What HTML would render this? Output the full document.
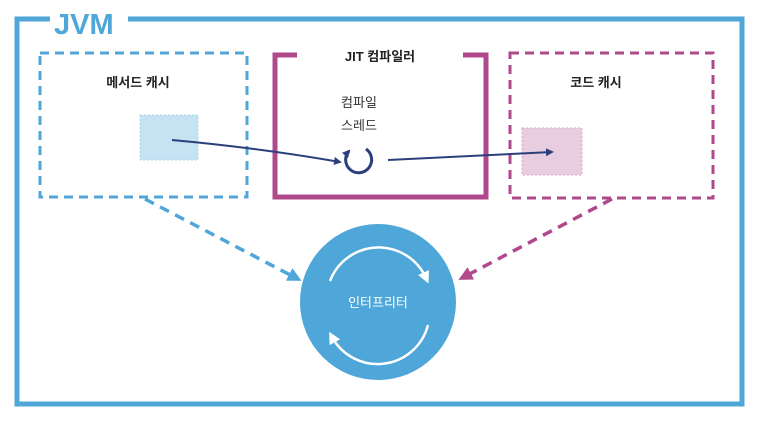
<!DOCTYPE html>
<html><head><meta charset="utf-8"><style>
html,body{margin:0;padding:0;background:#fff;}
svg{display:block;font-family:"Liberation Sans","Noto Sans CJK KR",sans-serif;}
</style></head><body>
<svg width="768" height="432" viewBox="0 0 768 432">
<defs>
<marker id="ah" markerWidth="8" markerHeight="8" refX="6" refY="4" orient="auto" markerUnits="userSpaceOnUse"><path d="M0,0 L8,4 L0,8 Z" fill="#2b3f7a"/></marker>
<marker id="ab" markerWidth="14" markerHeight="14" refX="10" refY="7" orient="auto" markerUnits="userSpaceOnUse"><path d="M0,0 L14,7 L0,14 Z" fill="#4fa6d8"/></marker>
<marker id="am" markerWidth="14" markerHeight="14" refX="10" refY="7" orient="auto" markerUnits="userSpaceOnUse"><path d="M0,0 L14,7 L0,14 Z" fill="#b0498c"/></marker>
<marker id="aw" markerWidth="12" markerHeight="12" refX="6" refY="6" orient="auto" markerUnits="userSpaceOnUse"><path d="M0,0 L12,6 L0,12 Z" fill="#fff"/></marker>
</defs>
<path d="M50,19 L17,19 L17,404 L742,404 L742,19 L128,19" fill="none" stroke="#4fa6d8" stroke-width="5"/>
<text x="54" y="34" font-size="29" font-weight="bold" fill="#4fa6d8">JVM</text>

<rect x="40" y="53" width="207" height="144" fill="none" stroke="#4fa6d8" stroke-width="3" stroke-dasharray="9,6"/>
<text x="138" y="87" font-size="13" font-weight="bold" fill="#222" text-anchor="middle">메서드 캐시</text>
<rect x="140" y="115" width="58" height="45" fill="#c5e3f3" stroke="#a9d4ee" stroke-width="1" stroke-dasharray="2,2"/>

<path d="M297,55 L275,55 L275,197 L486,197 L486,55 L463,55" fill="none" stroke="#b0498c" stroke-width="5"/>
<text x="380" y="61" font-size="13" font-weight="bold" fill="#222" text-anchor="middle">JIT 컴파일러</text>
<text x="359" y="107" font-size="13" fill="#333" text-anchor="middle">컴파일</text>
<text x="359" y="130" font-size="13" fill="#333" text-anchor="middle">스레드</text>
<path d="M366,149 A13,13 0 1 1 349,151" fill="none" stroke="#2b3f7a" stroke-width="3" marker-end="url(#ah)"/>

<rect x="510" y="53" width="203" height="145" fill="none" stroke="#b0498c" stroke-width="3" stroke-dasharray="9,6"/>
<text x="596" y="87" font-size="13" font-weight="bold" fill="#222" text-anchor="middle">코드 캐시</text>
<rect x="522" y="128" width="60" height="47" fill="#e8cde0" stroke="#d6aac8" stroke-width="1" stroke-dasharray="2,2"/>

<path d="M172,140 Q260,148 340,162" fill="none" stroke="#2b3f7a" stroke-width="2" marker-end="url(#ah)"/>
<path d="M388,160 L552,152" fill="none" stroke="#2b3f7a" stroke-width="2" marker-end="url(#ah)"/>

<path d="M145,199 L298,279" fill="none" stroke="#4fa6d8" stroke-width="3.5" stroke-dasharray="10,7" marker-end="url(#ab)"/>
<path d="M612,199 L462,278" fill="none" stroke="#b0498c" stroke-width="3.5" stroke-dasharray="10,7" marker-end="url(#am)"/>

<circle cx="378" cy="302" r="78" fill="#4fa6d8"/>
<path d="M330,281 A52,52 0 0 1 426,278" fill="none" stroke="#fff" stroke-width="2.5" marker-end="url(#aw)"/>
<path d="M428,325 A52,52 0 0 1 332,337" fill="none" stroke="#fff" stroke-width="2.5" marker-end="url(#aw)"/>
<text x="378" y="307" font-size="13" fill="#fff" text-anchor="middle">인터프리터</text>
</svg>
</body></html>
